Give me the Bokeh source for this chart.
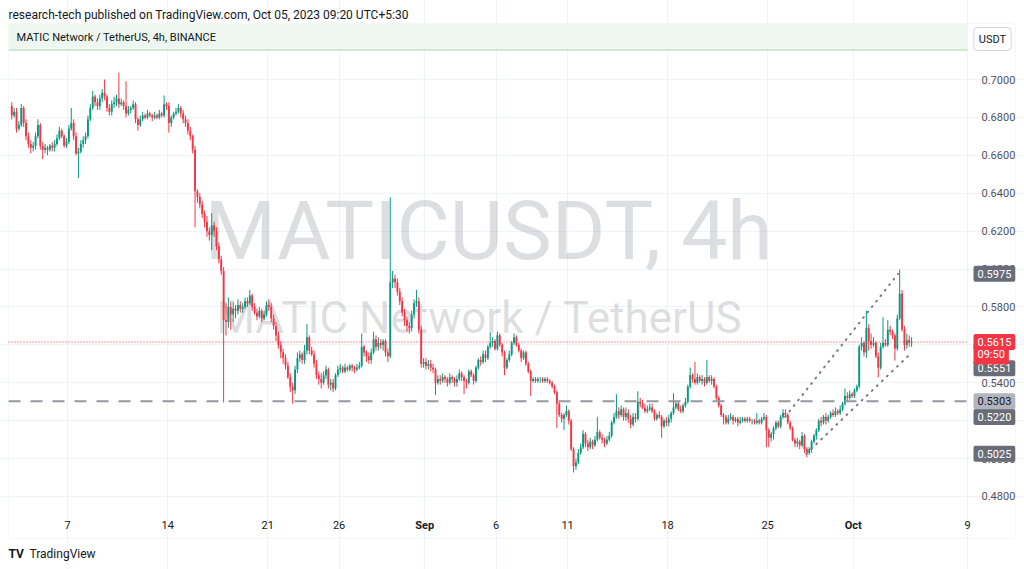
import numpy as np
import pandas as pd
from bokeh.plotting import figure
from bokeh.models import (ColumnDataSource, Label, BoxAnnotation, FixedTicker, Grid,
                          PrintfTickFormatter, Range1d, DatetimeAxis, LinearAxis)
from bokeh.embed import file_html
from bokeh.resources import INLINE

# ---- data: MATIC/USDT 4h candles starting 2023-08-03 00:00, prices in 1e-4 USDT ----
first_time = "2023-08-03 00:00"
first_open = 6860
close = [
    6810, 6830, 6740, 6760, 6850, 6770,  6700, 6660, 6640, 6650, 6700, 6760,
    6650, 6630, 6640, 6630, 6650, 6640,  6660, 6690, 6730, 6700, 6650, 6670,
    6740, 6770, 6700, 6610, 6620, 6660,  6680, 6700, 6790, 6850, 6910, 6880,
    6860, 6900, 6930, 6910, 6850, 6830,  6870, 6880, 6900, 6870, 6880, 6860,
    6820, 6840, 6850, 6870, 6790, 6760,  6790, 6810, 6800, 6820, 6810, 6800,
    6810, 6800, 6820, 6810, 6870, 6860,  6770, 6800, 6820, 6830, 6850, 6820,
    6790, 6770, 6730, 6700, 6630, 6410,  6380, 6340, 6290, 6250, 6200, 6180,
    6230, 6200, 6120, 6050, 5990, 5730,  5720, 5800, 5760, 5790, 5780, 5810,
    5790, 5800, 5830, 5820, 5860, 5800,  5770, 5750, 5780, 5740, 5760, 5810,
    5800, 5740, 5700, 5650, 5600, 5560,  5530, 5490, 5430, 5380, 5360, 5470,
    5530, 5550, 5520, 5570, 5640, 5570,  5550, 5500, 5440, 5420, 5400, 5440,
    5470, 5390, 5400, 5370, 5440, 5470,  5480, 5460, 5480, 5470, 5490, 5480,
    5470, 5480, 5490, 5590, 5560, 5540,  5520, 5560, 5630, 5590, 5610, 5600,
    5620, 5560, 5540, 5930, 5950, 5930,  5880, 5830, 5770, 5730, 5700, 5690,
    5760, 5820, 5830, 5680, 5500, 5510,  5490, 5500, 5480, 5470, 5400, 5420,
    5410, 5430, 5420, 5400, 5430, 5420,  5400, 5420, 5450, 5430, 5410, 5400,
    5460, 5440, 5410, 5480, 5520, 5510,  5550, 5530, 5590, 5610, 5620, 5580,
    5650, 5600, 5560, 5480, 5520, 5550,  5610, 5640, 5600, 5570, 5530, 5560,
    5500, 5460, 5410, 5420, 5410, 5420,  5420, 5410, 5420, 5410, 5400, 5380,
    5350, 5290, 5230, 5210, 5230, 5250,  5200, 5050, 4960, 4980, 5030, 5060,
    5130, 5080, 5060, 5090, 5070, 5100,  5140, 5110, 5100, 5080, 5100, 5120,
    5190, 5220, 5250, 5230, 5260, 5220,  5240, 5210, 5180, 5220, 5210, 5300,
    5290, 5270, 5250, 5260, 5270, 5250,  5210, 5230, 5220, 5170, 5200, 5190,
    5210, 5240, 5270, 5290, 5260, 5250,  5280, 5300, 5380, 5440, 5420, 5400,
    5430, 5410, 5420, 5400, 5430, 5410,  5420, 5380, 5320, 5280, 5230, 5220,
    5190, 5210, 5220, 5200, 5210, 5190,  5200, 5210, 5200, 5210, 5200, 5200,
    5190, 5200, 5190, 5210, 5220, 5150,  5110, 5130, 5160, 5190, 5170, 5220,
    5240, 5230, 5190, 5160, 5100, 5080,  5090, 5070, 5120, 5050, 5030, 5050,
    5090, 5120, 5150, 5200, 5190, 5220,  5200, 5220, 5240, 5230, 5250, 5240,
    5260, 5290, 5330, 5320, 5340, 5330,  5360, 5380, 5590, 5610, 5560, 5690,
    5620, 5600, 5610, 5540, 5480, 5590,  5610, 5600, 5680, 5670, 5650, 5580,
    5740, 5870, 5680, 5600, 5625, 5610,  5615,
]
high = [
    6880, 6850, 6850, 6780, 6870, 6860,  6790, 6720, 6680, 6670, 6720, 6790,
    6770, 6670, 6660, 6650, 6660, 6670,  6680, 6710, 6750, 6740, 6710, 6690,
    6760, 6850, 6790, 6720, 6640, 6680,  6700, 6720, 6810, 6870, 6940, 6920,
    6900, 6920, 6950, 7000, 6920, 6870,  6890, 6910, 6920, 7036, 6900, 6890,
    6990, 6860, 6860, 6890, 6880, 6800,  6810, 6830, 6820, 6840, 6830, 6820,
    6830, 6820, 6840, 6830, 6916, 6880,  6880, 6810, 6830, 6850, 6870, 6860,
    6840, 6810, 6790, 6750, 6710, 6650,  6420, 6400, 6360, 6310, 6280, 6220,
    6295, 6250, 6220, 6140, 6070, 6010,  5820, 5850, 5830, 5830, 5810, 5840,
    5830, 5820, 5850, 5850, 5890, 5870,  5820, 5790, 5800, 5790, 5780, 5830,
    5840, 5820, 5760, 5720, 5670, 5620,  5580, 5550, 5510, 5450, 5400, 5490,
    5560, 5570, 5560, 5600, 5710, 5650,  5590, 5570, 5520, 5460, 5450, 5460,
    5490, 5480, 5420, 5420, 5450, 5490,  5500, 5490, 5500, 5490, 5500, 5500,
    5490, 5500, 5510, 5660, 5600, 5570,  5560, 5580, 5670, 5650, 5640, 5630,
    5630, 5630, 5580, 6378, 5990, 5970,  5950, 5900, 5850, 5790, 5750, 5720,
    5780, 5840, 5890, 5850, 5700, 5530,  5530, 5520, 5520, 5500, 5480, 5440,
    5440, 5450, 5440, 5430, 5450, 5440,  5430, 5440, 5470, 5460, 5440, 5420,
    5470, 5470, 5450, 5490, 5530, 5540,  5570, 5570, 5600, 5665, 5640, 5630,
    5670, 5660, 5610, 5570, 5530, 5570,  5620, 5660, 5650, 5610, 5580, 5570,
    5570, 5510, 5470, 5430, 5430, 5430,  5430, 5430, 5430, 5430, 5420, 5410,
    5390, 5360, 5300, 5240, 5240, 5280,  5260, 5210, 5060, 5000, 5050, 5080,
    5150, 5140, 5100, 5110, 5100, 5120,  5220, 5150, 5130, 5110, 5120, 5140,
    5200, 5240, 5340, 5270, 5280, 5270,  5270, 5260, 5230, 5240, 5240, 5355,
    5320, 5310, 5290, 5280, 5290, 5290,  5260, 5240, 5250, 5230, 5210, 5220,
    5230, 5250, 5345, 5300, 5300, 5280,  5290, 5320, 5390, 5480, 5450, 5510,
    5450, 5440, 5440, 5430, 5520, 5440,  5440, 5430, 5390, 5330, 5290, 5240,
    5230, 5230, 5240, 5230, 5220, 5220,  5220, 5220, 5220, 5220, 5220, 5210,
    5210, 5240, 5210, 5220, 5240, 5230,  5160, 5140, 5170, 5200, 5200, 5230,
    5260, 5260, 5240, 5200, 5170, 5110,  5110, 5100, 5140, 5130, 5060, 5060,
    5100, 5130, 5160, 5210, 5220, 5230,  5240, 5230, 5250, 5260, 5270, 5260,
    5280, 5300, 5370, 5350, 5360, 5350,  5370, 5390, 5600, 5640, 5620, 5781,
    5710, 5660, 5640, 5620, 5560, 5610,  5746, 5630, 5730, 5700, 5680, 5660,
    5760, 5997, 5890, 5700, 5660, 5650,  5640,
]
low = [
    6790, 6800, 6720, 6730, 6750, 6750,  6680, 6640, 6610, 6620, 6630, 6690,
    6630, 6580, 6610, 6600, 6620, 6620,  6620, 6650, 6680, 6690, 6640, 6640,
    6660, 6730, 6680, 6600, 6480, 6610,  6640, 6660, 6690, 6780, 6840, 6860,
    6840, 6840, 6880, 6890, 6830, 6810,  6810, 6850, 6860, 6850, 6860, 6840,
    6800, 6810, 6820, 6840, 6770, 6730,  6750, 6780, 6790, 6790, 6800, 6780,
    6790, 6790, 6790, 6800, 6800, 6840,  6720, 6750, 6790, 6810, 6820, 6800,
    6770, 6750, 6710, 6680, 6610, 6220,  6350, 6320, 6270, 6220, 6170, 6150,
    6100, 6170, 6100, 6030, 5970, 5296,  5650, 5690, 5680, 5720, 5740, 5760,
    5770, 5770, 5790, 5800, 5810, 5780,  5760, 5730, 5740, 5720, 5730, 5750,
    5780, 5720, 5680, 5620, 5580, 5530,  5500, 5470, 5420, 5350, 5290, 5340,
    5450, 5510, 5500, 5500, 5550, 5550,  5540, 5480, 5420, 5390, 5370, 5390,
    5420, 5370, 5360, 5350, 5360, 5430,  5450, 5450, 5450, 5460, 5460, 5460,
    5450, 5460, 5470, 5480, 5540, 5510,  5500, 5500, 5550, 5570, 5570, 5580,
    5570, 5540, 5510, 5530, 5900, 5900,  5860, 5810, 5750, 5700, 5670, 5660,
    5670, 5740, 5800, 5660, 5480, 5480,  5470, 5470, 5460, 5450, 5335, 5390,
    5390, 5400, 5400, 5380, 5390, 5400,  5380, 5380, 5410, 5410, 5340, 5370,
    5390, 5430, 5390, 5400, 5470, 5490,  5500, 5510, 5520, 5580, 5590, 5570,
    5570, 5590, 5540, 5440, 5470, 5510,  5540, 5600, 5590, 5560, 5510, 5520,
    5490, 5450, 5330, 5400, 5400, 5400,  5400, 5400, 5400, 5400, 5390, 5370,
    5340, 5160, 5220, 5190, 5150, 5220,  5180, 5040, 4927, 4940, 4970, 5020,
    5050, 5060, 5040, 5050, 5050, 5060,  5090, 5100, 5080, 5060, 5070, 5090,
    5110, 5180, 5210, 5210, 5220, 5200,  5200, 5190, 5160, 5170, 5190, 5200,
    5270, 5260, 5240, 5240, 5250, 5240,  5200, 5200, 5210, 5110, 5160, 5170,
    5170, 5190, 5230, 5260, 5250, 5240,  5240, 5270, 5290, 5370, 5400, 5390,
    5390, 5400, 5390, 5380, 5390, 5400,  5390, 5370, 5310, 5270, 5220, 5180,
    5180, 5180, 5200, 5180, 5190, 5170,  5180, 5190, 5190, 5190, 5190, 5180,
    5180, 5180, 5180, 5180, 5200, 5060,  5060, 5090, 5100, 5150, 5160, 5160,
    5210, 5220, 5180, 5150, 5090, 5060,  5060, 5050, 5060, 5030, 5006, 5020,
    5030, 5080, 5100, 5140, 5170, 5180,  5180, 5190, 5210, 5220, 5220, 5230,
    5230, 5250, 5280, 5300, 5310, 5320,  5320, 5350, 5370, 5570, 5540, 5530,
    5570, 5580, 5590, 5530, 5428, 5470,  5580, 5590, 5590, 5650, 5630, 5517,
    5570, 5730, 5670, 5570, 5580, 5590,  5590,
]

tick_dates = ["2023-08-07", "2023-08-14", "2023-08-21", "2023-08-26", "2023-09-01",
              "2023-09-06", "2023-09-11", "2023-09-18", "2023-09-25", "2023-10-01",
              "2023-10-09"]
tick_labels = ["7", "14", "21", "26", "Sep", "6", "11", "18", "25", "Oct", "9"]
bold_labels = ["Sep", "Oct"]
price_ticks = [0.48, 0.50, 0.52, 0.54, 0.56, 0.58, 0.60, 0.62, 0.64, 0.66, 0.68, 0.70]

level_price = 0.5303
last_price = 0.5615
countdown = "09:50"
trend_upper_t = ["2023-09-26 05:30", "2023-10-04 03:20"]
trend_upper_p = [0.5220, 0.5975]
trend_lower_t = ["2023-09-27 16:50", "2023-10-04 23:30"]
trend_lower_p = [0.5025, 0.5551]
dark_tags = [0.5975, 0.5220, 0.5025]

GREEN = "#089981"
RED = "#f23645"
FONT = "Roboto"
W, H = 1024, 569

# ---- layout geometry (canvas pixels -> data) ----
T0 = pd.Timestamp(first_time)
PX_DAY = 14.283          # pixels per day
X_T0 = 10.07             # canvas x of first_time
PX_UNIT = 1895.45        # pixels per 1.0 USDT
Y_070 = 79.0             # canvas y of price 0.70

def tx(px):
    return T0 + pd.Timedelta(days=(px - X_T0) / PX_DAY)

def py(px):
    return 0.70 - (px - Y_070) / PX_UNIT

def ms(d):
    return int(pd.Timestamp(d).timestamp() * 1000)

chart_left, chart_right = ms(tx(8)), ms(tx(967))
chart_top, chart_bottom = py(50), py(513)

# ---- build candles ----
c = np.array(close, dtype=float) / 1e4
o = np.array([first_open] + close[:-1], dtype=float) / 1e4
h = np.maximum(np.array(high, dtype=float) / 1e4, np.maximum(o, c))
l = np.minimum(np.array(low, dtype=float) / 1e4, np.minimum(o, c))
t = (T0 + pd.to_timedelta(np.arange(len(c)) * 4 + 2, unit="h")).values
colors = np.where(c >= o, GREEN, RED)
src = ColumnDataSource(dict(t=t, o=o, c=c, h=h, l=l,
                            top=np.maximum(o, c), bottom=np.minimum(o, c), color=colors))

p = figure(width=W, height=H, x_axis_type="datetime",
           x_axis_location=None, y_axis_location=None,
           x_range=Range1d(tx(0), tx(W)), y_range=Range1d(py(H), py(0)),
           output_backend="svg", toolbar_location=None,
           min_border_left=0, min_border_right=0, min_border_top=0, min_border_bottom=0)
p.title.visible = False
p.outline_line_color = None
p.background_fill_color = "white"
p.border_fill_color = "white"
for g in p.grid:
    g.visible = False

tick_ms = [ms(d) for d in tick_dates]

# grids limited to the chart pane
p.add_layout(Grid(dimension=0, ticker=FixedTicker(ticks=tick_ms), grid_line_color="#f0f3fa",
                  bounds=(chart_bottom, chart_top)))
p.add_layout(Grid(dimension=1, ticker=FixedTicker(ticks=price_ticks), grid_line_color="#f0f3fa",
                  bounds=(chart_left, chart_right)))

# time axis along the bottom of the pane
xa = DatetimeAxis(fixed_location=chart_bottom, ticker=FixedTicker(ticks=tick_ms))
xa.major_label_overrides = {m: ("" if lab in bold_labels else lab)
                            for m, lab in zip(tick_ms, tick_labels)}
xa.axis_line_color = None
xa.major_tick_line_color = None
xa.minor_tick_line_color = None
xa.major_label_standoff = 1
xa.major_label_text_font = FONT
xa.major_label_text_font_size = "11px"
xa.major_label_text_color = "#131722"
p.add_layout(xa, "below")

# price axis along the right of the pane
ya = LinearAxis(fixed_location=chart_right, ticker=FixedTicker(ticks=price_ticks),
                formatter=PrintfTickFormatter(format="%.4f"))
ya.axis_line_color = None
ya.major_tick_line_color = None
ya.minor_tick_line_color = None
ya.major_label_standoff = 8
ya.major_label_text_font = FONT
ya.major_label_text_font_size = "11px"
ya.major_label_text_color = "#50535e"
p.add_layout(ya, "right")

def sy(img_y):
    return H - img_y

# watermark
p.add_layout(Label(x=488, y=sy(230), x_units="screen", y_units="screen", text="MATICUSDT, 4h",
                   text_align="center", text_baseline="middle", text_font=FONT,
                   text_font_size="82px", text_color="#787b86", text_alpha=0.25, level="underlay"))
p.add_layout(Label(x=479, y=sy(317), x_units="screen", y_units="screen",
                   text="MATIC Network / TetherUS",
                   text_align="center", text_baseline="middle", text_font=FONT,
                   text_font_size="44px", text_color="#787b86", text_alpha=0.25, level="underlay"))

# candles
p.segment(x0="t", y0="h", x1="t", y1="l", source=src, line_color="color", line_width=1)
p.vbar(x="t", width=4 * 3600 * 1000 * 0.8, top="top", bottom="bottom", source=src,
       fill_color="color", line_color=None)

# horizontal level and last-price line across the pane
p.segment(x0=[chart_left], x1=[chart_right], y0=[level_price], y1=[level_price],
          line_color="#9598a1", line_width=2, line_dash="12 10")
p.segment(x0=[chart_left], x1=[chart_right], y0=[last_price], y1=[last_price],
          line_color=RED, line_width=1, line_dash="1 2")

# channel lines
p.line(pd.to_datetime(trend_upper_t), trend_upper_p, line_color="#787b86", line_width=2,
       line_dash="1 6", line_cap="round")
p.line(pd.to_datetime(trend_lower_t), trend_lower_p, line_color="#787b86", line_width=2,
       line_dash="1 6", line_cap="round")

# price tags on the axis
def tag(price, text, bg, fg, y_off=0):
    p.add_layout(Label(x=973, y=price, x_units="screen", y_units="data", y_offset=y_off,
                       text=text, text_align="left", text_baseline="middle",
                       text_font=FONT, text_font_size="11px", text_color=fg,
                       background_fill_color=bg, padding=4, border_radius=2))

for pr in dark_tags:
    tag(pr, "%.4f" % pr, "#6a6d78", "white")
tag(trend_lower_p[1], "%.4f" % trend_lower_p[1], "#6a6d78", "white", y_off=-14)
tag(level_price, "%.4f" % level_price, "#b2b5be", "#131722")
tag(last_price, countdown, RED, "white", y_off=-12)
tag(last_price, "%.4f" % last_price, RED, "white")

# bold month labels on the time axis
for d, lab in zip(tick_dates, tick_labels):
    if lab in bold_labels:
        p.add_layout(Label(x=ms(d), y=sy(525), x_units="data", y_units="screen", text=lab,
                           text_align="center", text_baseline="middle", text_font=FONT,
                           text_font_size="11px", text_font_style="bold", text_color="#131722"))

# chrome: outer frame, title bar, header, footer
def sbox(left, right, top, bottom, **kw):
    p.add_layout(BoxAnnotation(left=left, right=right, top=sy(top), bottom=sy(bottom),
                               left_units="screen", right_units="screen",
                               top_units="screen", bottom_units="screen", **kw))

sbox(8, 1015, 23, 538, fill_alpha=0, line_color="#e0e3eb", line_width=1, border_radius=4)
sbox(8.5, 967, 23.5, 49, fill_color="#eef7ef", fill_alpha=1, line_color=None)
sbox(8.5, 967, 49, 50, fill_color="#a5d6a7", fill_alpha=1, line_color=None)

p.add_layout(Label(x=16, y=sy(37), x_units="screen", y_units="screen",
                   text="MATIC Network / TetherUS, 4h, BINANCE", text_baseline="middle",
                   text_font=FONT, text_font_size="11px", text_color="#131722"))
p.add_layout(Label(x=992, y=sy(38.5), x_units="screen", y_units="screen", text="USDT",
                   text_align="center", text_baseline="middle", text_font=FONT,
                   text_font_size="11px", text_color="#131722", background_fill_color="white",
                   border_line_color="#d1d4dc", padding=5, border_radius=4))
p.add_layout(Label(x=8, y=sy(14), x_units="screen", y_units="screen",
                   text="research-tech published on TradingView.com, Oct 05, 2023 09:20 UTC+5:30",
                   text_baseline="middle", text_font=FONT, text_font_size="12px",
                   text_color="#131722"))
p.add_layout(Label(x=8, y=sy(553), x_units="screen", y_units="screen", text="TV",
                   text_baseline="middle", text_font=FONT, text_font_size="12px",
                   text_font_style="bold", text_color="#131722"))
p.add_layout(Label(x=29, y=sy(553), x_units="screen", y_units="screen", text="TradingView",
                   text_baseline="middle", text_font=FONT, text_font_size="12px",
                   text_color="#131722"))

open("out.html", "w").write(file_html(p, INLINE))
